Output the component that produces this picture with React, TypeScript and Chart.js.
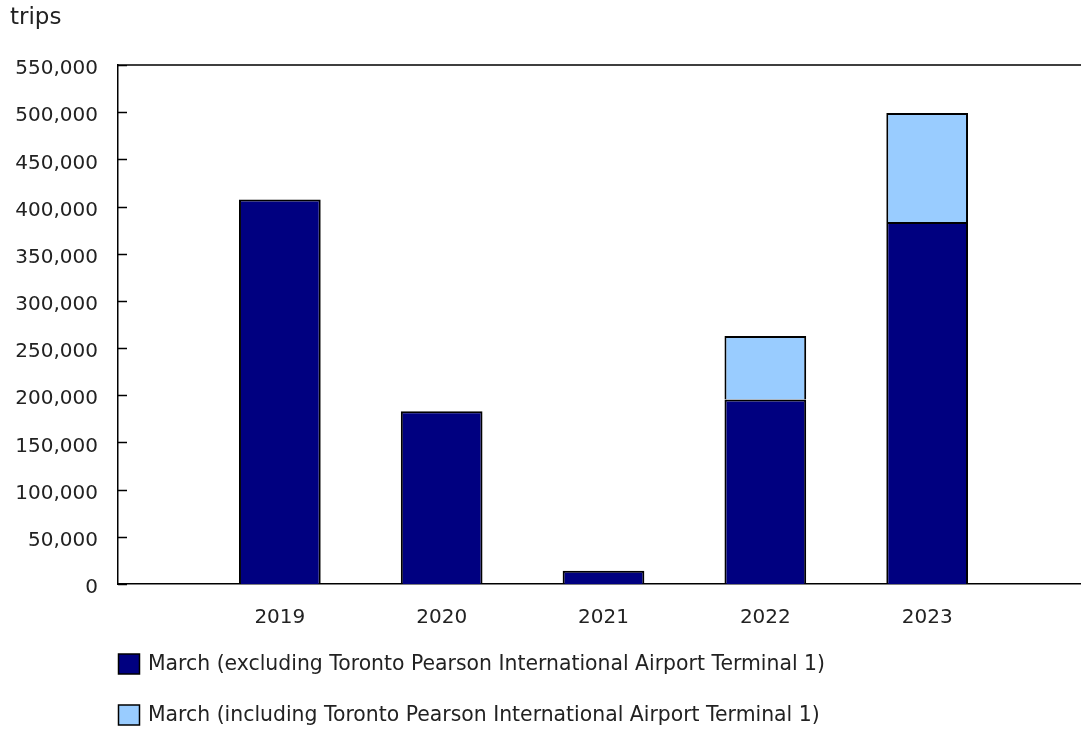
import React, { useEffect, useRef } from "react";
import { Chart, registerables } from "chart.js";

Chart.register(...registerables);

// ---- data ----
const years: string[] = ["2019", "2020", "2021", "2022", "2023"];
const excludingTerminal1: number[] = [407500, 183000, 14000, 195500, 383500];
const includingTerminal1Totals: (number | null)[] = [null, null, null, 262800, 499200];
const unitLabel = "trips";
const seriesNames: string[] = [
  "March (excluding Toronto Pearson International Airport Terminal 1)",
  "March (including Toronto Pearson International Airport Terminal 1)",
];
const seriesColors: string[] = ["#000080", "#99CCFF"];
const yMax = 550000;
const yStep = 50000;

const FONT = "DejaVu Sans";
const FONT_SIZE = 20;
const TEXT_COLOR = "#222";

// padded categories: empty slot at each end
const labels = ["", ...years, ""];
const darkData = [null, ...excludingTerminal1, null];
const lightData = [
  null,
  ...includingTerminal1Totals.map((t, i) => (t == null ? null : t - excludingTerminal1[i])),
  null,
];

const framePlugin = {
  id: "framePlugin",
  afterDraw(chart: any) {
    const { ctx, chartArea } = chart;
    const y = chart.scales.y;
    ctx.save();
    ctx.strokeStyle = "#000";
    ctx.lineWidth = 1.5;
    ctx.beginPath();
    ctx.moveTo(chartArea.left, chartArea.top);
    ctx.lineTo(chartArea.right, chartArea.top);
    y.ticks.forEach((t: any) => {
      const py = Math.round(y.getPixelForValue(t.value)) + 0.5;
      ctx.moveTo(chartArea.left, py);
      ctx.lineTo(chartArea.left + 9, py);
    });
    ctx.stroke();

    // unit label
    ctx.fillStyle = TEXT_COLOR;
    ctx.font = `23px "${FONT}"`;
    ctx.textBaseline = "middle";
    ctx.textAlign = "left";
    ctx.fillText(unitLabel, 10, 18);

    // legend
    ctx.font = `20.4px "${FONT}"`;
    const x0 = chartArea.left;
    const ys = [chartArea.bottom + 80, chartArea.bottom + 131];
    chart.data.datasets.forEach((ds: any, i: number) => {
      const cy = ys[i];
      ctx.fillStyle = ds.backgroundColor;
      ctx.fillRect(x0 + 0.5, cy - 10, 21, 20);
      ctx.lineWidth = 1.5;
      ctx.strokeStyle = "#000";
      ctx.strokeRect(x0 + 0.5, cy - 10, 21, 20);
      ctx.fillStyle = TEXT_COLOR;
      ctx.fillText(ds.label, x0 + 30, cy + 1);
    });
    ctx.restore();
  },
};

export default function App() {
  const ref = useRef<HTMLCanvasElement | null>(null);
  useEffect(() => {
    if (!ref.current) return;
    Chart.defaults.font.family = FONT;
    Chart.defaults.font.size = FONT_SIZE;
    Chart.defaults.color = TEXT_COLOR;
    const chart = new Chart(ref.current, {
      type: "bar",
      data: {
        labels,
        datasets: [
          {
            label: seriesNames[0],
            data: darkData,
            backgroundColor: seriesColors[0],
            borderColor: "#000",
            borderWidth: 2,
            categoryPercentage: 1,
            barPercentage: 0.505,
          },
          {
            label: seriesNames[1],
            data: lightData,
            backgroundColor: seriesColors[1],
            borderColor: "#000",
            borderWidth: 2,
            categoryPercentage: 1,
            barPercentage: 0.505,
          },
        ],
      } as any,
      options: {
        animation: false,
        responsive: false,
        maintainAspectRatio: false,
        devicePixelRatio: 1,
        layout: { padding: { top: 65, right: 1, left: 0, bottom: 0 } },
        plugins: { legend: { display: false }, tooltip: { enabled: false } },
        scales: {
          x: {
            stacked: true,
            offset: false,
            grid: { display: false, drawTicks: false },
            border: { display: true, color: "#000", width: 1.5 },
            ticks: { padding: 22, autoSkip: false, maxRotation: 0 },
            afterFit: (s: any) => {
              s.height = 145;
              s.paddingLeft = 0;
              s.paddingRight = 0;
            },
          },
          y: {
            stacked: true,
            min: 0,
            max: yMax,
            grid: { display: false, drawTicks: false },
            border: { display: true, color: "#000", width: 1.5 },
            ticks: {
              stepSize: yStep,
              padding: 20,
              labelOffset: 4,
              callback: (v: any) => Number(v).toLocaleString("en-US"),
            },
            afterFit: (s: any) => {
              s.width = 118;
            },
          },
        },
      },
      plugins: [framePlugin],
    });
    return () => chart.destroy();
  }, []);

  return (
    <div
      style={{
        position: "fixed",
        left: 0,
        top: 0,
        width: 1081,
        height: 729,
        overflow: "hidden",
        background: "#fff",
      }}
    >
      <canvas ref={ref} width={1090} height={729} style={{ display: "block" }} />
    </div>
  );
}
